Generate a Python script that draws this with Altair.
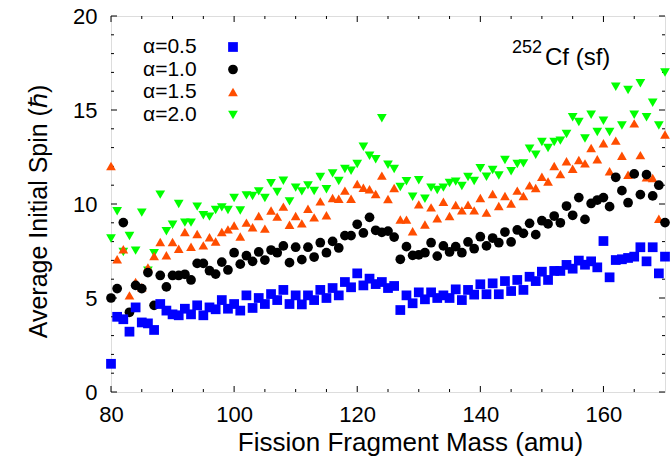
import altair as alt
import pandas as pd

# ---------------- data ----------------
mass = list(range(80, 171))

alpha05 = [1.5, 4.0, 3.87, 3.21, 4.5, 3.7, 3.65, 3.3, 4.68, 4.33,
           4.13, 4.08, 4.43, 4.13, 4.61, 4.08, 4.5, 4.4, 4.89, 4.43,
           4.68, 4.33, 5.14, 4.47, 5.0, 4.68, 5.21, 4.89, 5.43, 4.68,
           5.14, 4.66, 5.14, 4.89, 5.43, 5.0, 5.53, 5.14, 5.85, 5.57,
           6.31, 5.67, 6.03, 5.74, 5.85, 5.53, 5.64, 4.36, 5.14, 4.72,
           5.30, 4.93, 5.30, 5.0, 5.14, 5.0, 5.46, 4.89, 5.43, 5.18,
           5.73, 5.2, 5.78, 5.2, 5.9, 5.37, 5.96, 5.43, 6.13, 5.9,
           6.4, 5.96, 6.44, 6.44, 6.76, 6.56, 6.99, 6.77, 6.95, 6.63,
           8.03, 6.1, 7.02, 7.06, 7.13, 7.2, 7.7, 6.95, 7.7, 6.31,
           7.2]

alpha10 = [5.0, 5.5, 9.01, 4.24, 5.67, 5.5, 6.35, 4.61, 6.2, 5.59,
           6.2, 6.2, 6.26, 5.96, 6.84, 6.84, 6.45, 6.27, 6.91, 6.49,
           7.41, 6.8, 7.25, 6.95, 7.45, 7.02, 7.55, 7.41, 7.77, 6.88,
           7.7, 7.04, 7.7, 7.18, 7.94, 7.41, 8.01, 7.66, 8.32, 8.32,
           8.92, 8.46, 9.29, 8.6, 8.49, 8.56, 8.24, 7.06, 7.73, 7.27,
           7.3, 7.41, 7.94, 7.23, 7.77, 7.45, 7.73, 7.41, 7.98, 7.62,
           8.26, 7.77, 8.19, 7.94, 8.51, 7.98, 8.62, 8.44, 8.97, 8.37,
           9.11, 8.94, 9.36, 9.0, 9.89, 9.4, 10.34, 9.18, 10.03, 10.21,
           10.34, 9.86, 11.42, 10.71, 10.07, 11.6, 10.5, 11.56, 10.43, 11.0,
           9.01]

alpha15 = [12.02, 7.06, 7.59, 5.14, 5.85, 5.57, 6.63, 7.23, 7.98, 7.27,
           7.98, 7.62, 8.51, 7.73, 8.4, 7.8, 8.23, 8.01, 8.51, 8.65,
           8.86, 8.27, 9.01, 8.76, 9.36, 8.69, 9.65, 9.33, 9.86, 8.9,
           9.36, 8.97, 9.75, 9.29, 10.14, 9.4, 10.32, 10.28, 10.71, 10.28,
           11.06, 10.86, 10.78, 10.53, 11.51, 10.27, 10.85, 9.18, 9.17, 8.55,
           9.98, 8.91, 9.82, 9.24, 10.12, 9.36, 9.95, 9.66, 9.96, 9.66,
           10.32, 9.54, 10.53, 9.89, 10.43, 10.03, 10.71, 10.43, 10.99, 10.85,
           11.45, 11.2, 12.02, 11.59, 12.27, 11.88, 12.34, 12.16, 12.98, 12.38,
           13.23, 11.74, 13.37, 12.57, 11.56, 14.29, 12.6, 11.42, 11.38, 9.22,
           13.7]

alpha20 = [8.16, 9.61, 7.45, 8.3, 7.52, 9.54, 6.45, 7.38, 10.5, 8.55,
           8.9, 10.0, 9.01, 9.01, 9.86, 9.4, 9.33, 9.68, 9.82, 9.68,
           10.32, 9.65, 10.46, 10.43, 10.67, 10.32, 11.1, 10.64, 11.24, 10.14,
           10.87, 10.67, 10.99, 10.69, 11.44, 10.78, 11.63, 11.22, 11.86, 11.77,
           12.13, 13.05, 12.57, 12.38, 14.56, 12.09, 11.86, 10.9, 11.21, 10.39,
           11.26, 10.28, 10.87, 10.74, 10.87, 11.12, 11.19, 10.96, 11.44, 11.22,
           11.9, 11.45, 11.81, 11.52, 12.34, 11.74, 12.13, 12.16, 12.94, 12.62,
           13.3, 12.98, 13.3, 13.37, 13.72, 14.61, 14.36, 13.48, 14.75, 13.83,
           14.43, 13.83, 16.24, 14.18, 16.06, 14.75, 16.42, 14.61, 15.39, 14.18,
           16.99]

series_names = ["α=0.5", "α=1.0", "α=1.5", "α=2.0"]
series_colors = ["#0000ff", "#000000", "#ff4d00", "#00ff00"]
series_shapes = ["square", "circle", "triangle-up", "triangle-down"]

x_major = [80, 100, 120, 140, 160]
x_minor = [85, 90, 95, 105, 110, 115, 125, 130, 135, 145, 150, 155, 165]
y_major = [0, 5, 10, 15, 20]
y_minor = [1, 2, 3, 4, 6, 7, 8, 9, 11, 12, 13, 14, 16, 17, 18, 19]

# ---------------- layout ----------------
W, H = 554, 376
FONT = "Liberation Sans"
LEG_TEXT_X, LEG_SYM_X = 32, 122
LEG_ROW_Y = [31, 53.5, 76, 99]
MARK_SIZE = 95

rows = []
for name, vals in zip(series_names, [alpha05, alpha10, alpha15, alpha20]):
    for m, v in zip(mass, vals):
        rows.append({"mass": m, "spin": v, "series": name})
df = pd.DataFrame(rows)

xscale = alt.Scale(domain=[80, 170], nice=False, zero=False)
yscale = alt.Scale(domain=[0, 20], nice=False, zero=False)

points = alt.Chart(df).mark_point(filled=True, size=MARK_SIZE, opacity=1).encode(
    x=alt.X("mass:Q", scale=xscale,
            axis=alt.Axis(values=x_major, tickSize=0, domain=False, grid=False,
                          labelFont=FONT, labelFontSize=22, labelPadding=12,
                          labelColor="black", labelFlush=False,
                          title="Fission Fragment Mass (amu)", titleFont=FONT,
                          titleFontSize=26, titleFontWeight="normal",
                          titleX=299, titleY=37, titleAlign="center",
                          titleBaseline="top", titleColor="black")),
    y=alt.Y("spin:Q", scale=yscale,
            axis=alt.Axis(values=y_major, tickSize=0, domain=False, grid=False,
                          labelFont=FONT, labelFontSize=22, labelPadding=14,
                          labelColor="black", labelFlush=False,
                          title="Average Initial Spin (ℏ)", titleFont=FONT,
                          titleFontSize=25, titleFontWeight="normal",
                          titleX=-60, titleY=195, titleAngle=270,
                          titleAlign="center", titleBaseline="bottom",
                          titleColor="black")),
    color=alt.Color("series:N", scale=alt.Scale(domain=series_names, range=series_colors), legend=None),
    shape=alt.Shape("series:N", scale=alt.Scale(domain=series_names, range=series_shapes), legend=None),
    order=alt.Order("series:N", sort="descending"),
)

def tick_layer(vals, axis, length, side):
    d = pd.DataFrame({"t": vals})
    c = alt.Chart(d).mark_rule(color="black", strokeWidth=1)
    if axis == "x":
        if side == "bottom":
            return c.encode(x=alt.X("t:Q", scale=xscale), y=alt.value(H), y2=alt.value(H - length))
        return c.encode(x=alt.X("t:Q", scale=xscale), y=alt.value(0), y2=alt.value(length))
    if side == "left":
        return c.encode(y=alt.Y("t:Q", scale=yscale), x=alt.value(0), x2=alt.value(length))
    return c.encode(y=alt.Y("t:Q", scale=yscale), x=alt.value(W), x2=alt.value(W - length))

ticks = [
    tick_layer(x_major, "x", 6, "bottom"), tick_layer(x_minor, "x", 3, "bottom"),
    tick_layer(x_major, "x", 6, "top"), tick_layer(x_minor, "x", 3, "top"),
    tick_layer(y_major, "y", 6, "left"), tick_layer(y_minor, "y", 3, "left"),
    tick_layer(y_major, "y", 6, "right"), tick_layer(y_minor, "y", 3, "right"),
]

# legend: label on the left, symbol on the right (as in the reference)
legend_layers = []
for name, col, shp, ry in zip(series_names, series_colors, series_shapes, LEG_ROW_Y):
    d = pd.DataFrame({"s": [name]})
    legend_layers.append(
        alt.Chart(d).mark_text(font=FONT, fontSize=21, align="left", baseline="middle",
                               color="black")
        .encode(text="s:N", x=alt.value(LEG_TEXT_X), y=alt.value(ry))
    )
    legend_layers.append(
        alt.Chart(d).mark_point(filled=True, size=MARK_SIZE, opacity=1, shape=shp, color=col,
                                strokeWidth=0)
        .encode(x=alt.value(LEG_SYM_X), y=alt.value(ry))
    )

sup = alt.Chart(pd.DataFrame({"t": ["252"]})).mark_text(
    font=FONT, fontSize=18, align="left", baseline="alphabetic", color="black"
).encode(text="t:N", x=alt.value(401), y=alt.value(37))

label = alt.Chart(pd.DataFrame({"t": ["Cf (sf)"]})).mark_text(
    font=FONT, fontSize=24, align="left", baseline="alphabetic", color="black"
).encode(text="t:N", x=alt.value(434), y=alt.value(49))

chart = alt.layer(*ticks, points, *legend_layers, sup, label).properties(
    width=W, height=H,
    autosize=alt.AutoSizeParams(type="none"),
    padding={"left": 111, "top": 16, "right": 7, "bottom": 71},
).configure_view(stroke="black", strokeWidth=1.5).configure(background="white")

chart.save("out.html", embed_options={"renderer": "svg", "actions": False})
